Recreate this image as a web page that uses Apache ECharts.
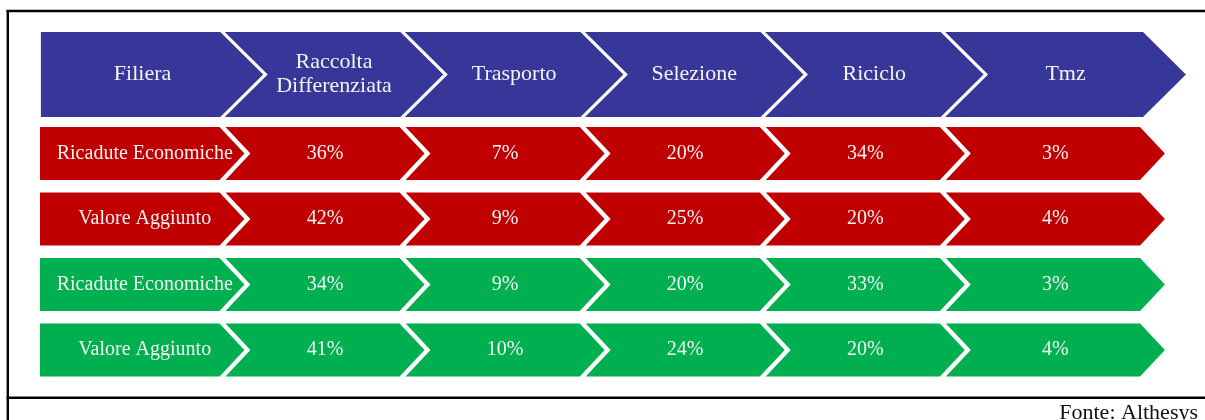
<!DOCTYPE html>
<html>
<head>
<meta charset="utf-8">
<style>
  html, body { margin: 0; padding: 0; background: #ffffff; }
  #chart { width: 1205px; height: 420px; }
</style>
<script src="https://cdn.jsdelivr.net/npm/echarts@6/dist/echarts.min.js"></script>
</head>
<body>
<div id="chart"></div>
<script>
// Stages of the supply chain (header chevrons)
const stages = ['Filiera', 'Raccolta\nDifferenziata', 'Trasporto', 'Selezione', 'Riciclo', 'Tmz'];
// Row titles (first chevron of each row)
const rowLabels = ['Ricadute Economiche', 'Valore Aggiunto', 'Ricadute Economiche', 'Valore Aggiunto'];
// Shares by stage, in percent
const ricaduteRosso = [36, 7, 20, 34, 3];
const valoreRosso = [42, 9, 25, 20, 4];
const ricaduteVerde = [34, 9, 20, 33, 3];
const valoreVerde = [41, 10, 24, 20, 4];
const sourceNote = 'Fonte: Althesys';

const rowValues = [ricaduteRosso, valoreRosso, ricaduteVerde, valoreVerde];
const rowColors = ['#c00000', '#c00000', '#00b050', '#00b050'];
const headerColor = '#373699';
const textColor = '#f4f4f4';
const FONT = '"Liberation Serif", "Times New Roman", serif';

// Cells of the header band
const headerCells = stages.map((s, c) => ({ col: c, row: 0, text: s }));
// Cells of the four data rows
const rowCells = [];
rowLabels.forEach((lab, r) => {
  rowCells.push({ col: 0, row: r, text: lab, color: rowColors[r] });
  rowValues[r].forEach((v, i) => {
    rowCells.push({ col: i + 1, row: r, text: v + '%', color: rowColors[r] });
  });
});

const nCols = stages.length;

// Builds a chevron (or a flat-left pentagon for the first column) in the band of a category cell
function makeChevron(api, cell, o) {
  const center = api.coord([api.value(0), api.value(1)]);
  const size = api.size([1, 1]);
  const c = cell.col;
  const half = size[1] * o.heightRatio / 2;
  const d = half * o.depthRatio;
  const left = center[0] - size[0] / 2;
  const right = center[0] + size[0] / 2;
  const L = c === 0 ? left - o.firstExtra : left + o.gap / 2;
  const R = c === nCols - 1 ? right + o.lastExtra : right - o.gap / 2;
  const T = center[1] - half, B = center[1] + half, cy = center[1];
  const pts = c === 0
    ? [[L, T], [R, T], [R + d, cy], [R, B], [L, B]]
    : [[L, T], [R, T], [R + d, cy], [R, B], [L, B], [L + d, cy]];
  const tx = c === 0 ? (L + R) / 2 + o.firstTextShift : (L + R) / 2 + d / 2;
  return {
    type: 'group',
    children: [
      { type: 'polygon', shape: { points: pts }, style: { fill: cell.color || o.fill } },
      {
        type: 'text',
        style: {
          text: cell.text, x: tx, y: center[1] + o.textDy,
          align: 'center', verticalAlign: 'middle',
          fill: textColor, font: o.fontSize + 'px ' + FONT,
          lineHeight: o.lineHeight
        }
      }
    ]
  };
}

const chart = echarts.init(document.getElementById('chart'), null, { renderer: 'canvas' });

chart.setOption({
  backgroundColor: '#ffffff',
  animation: false,
  grid: [
    { left: 42.4, width: 1080.6, top: 32, height: 85 },
    { left: 42.4, width: 1080.6, top: 120.75, height: 262 }
  ],
  xAxis: [
    { type: 'category', gridIndex: 0, data: stages, show: false },
    { type: 'category', gridIndex: 1, data: stages, show: false }
  ],
  yAxis: [
    { type: 'category', gridIndex: 0, data: [0], show: false, inverse: true },
    { type: 'category', gridIndex: 1, data: rowLabels.map((_, i) => i), show: false, inverse: true }
  ],
  graphic: [
    { type: 'line', shape: { x1: 7.8, y1: 10, x2: 7.8, y2: 420 }, style: { stroke: '#000', lineWidth: 2.4 } },
    { type: 'line', shape: { x1: 6.6, y1: 11, x2: 1205, y2: 11 }, style: { stroke: '#000', lineWidth: 2.4 } },
    { type: 'line', shape: { x1: 6.6, y1: 397.8, x2: 1205, y2: 397.8 }, style: { stroke: '#000', lineWidth: 2.4 } },
    {
      type: 'text', x: 1198, y: 413.5,
      style: { text: sourceNote, align: 'right', verticalAlign: 'middle', fill: '#111', font: '22px ' + FONT }
    }
  ],
  series: [
    {
      type: 'custom', xAxisIndex: 0, yAxisIndex: 0,
      data: headerCells.map(d => [d.col, d.row]),
      renderItem: (params, api) => makeChevron(api, headerCells[params.dataIndex], {
        heightRatio: 1, depthRatio: 1.01, gap: 4.5, firstExtra: 1.5, lastExtra: 20,
        fill: headerColor, fontSize: 22, lineHeight: 24, firstTextShift: 12, textDy: 0
      })
    },
    {
      type: 'custom', xAxisIndex: 1, yAxisIndex: 1,
      data: rowCells.map(d => [d.col, d.row]),
      renderItem: (params, api) => makeChevron(api, rowCells[params.dataIndex], {
        heightRatio: 53 / 65.5, depthRatio: 0.94, gap: 6, firstExtra: 2.4, lastExtra: 17,
        fontSize: 20, lineHeight: 22, firstTextShift: 15, textDy: 0
      })
    }
  ]
});
</script>
</body>
</html>
